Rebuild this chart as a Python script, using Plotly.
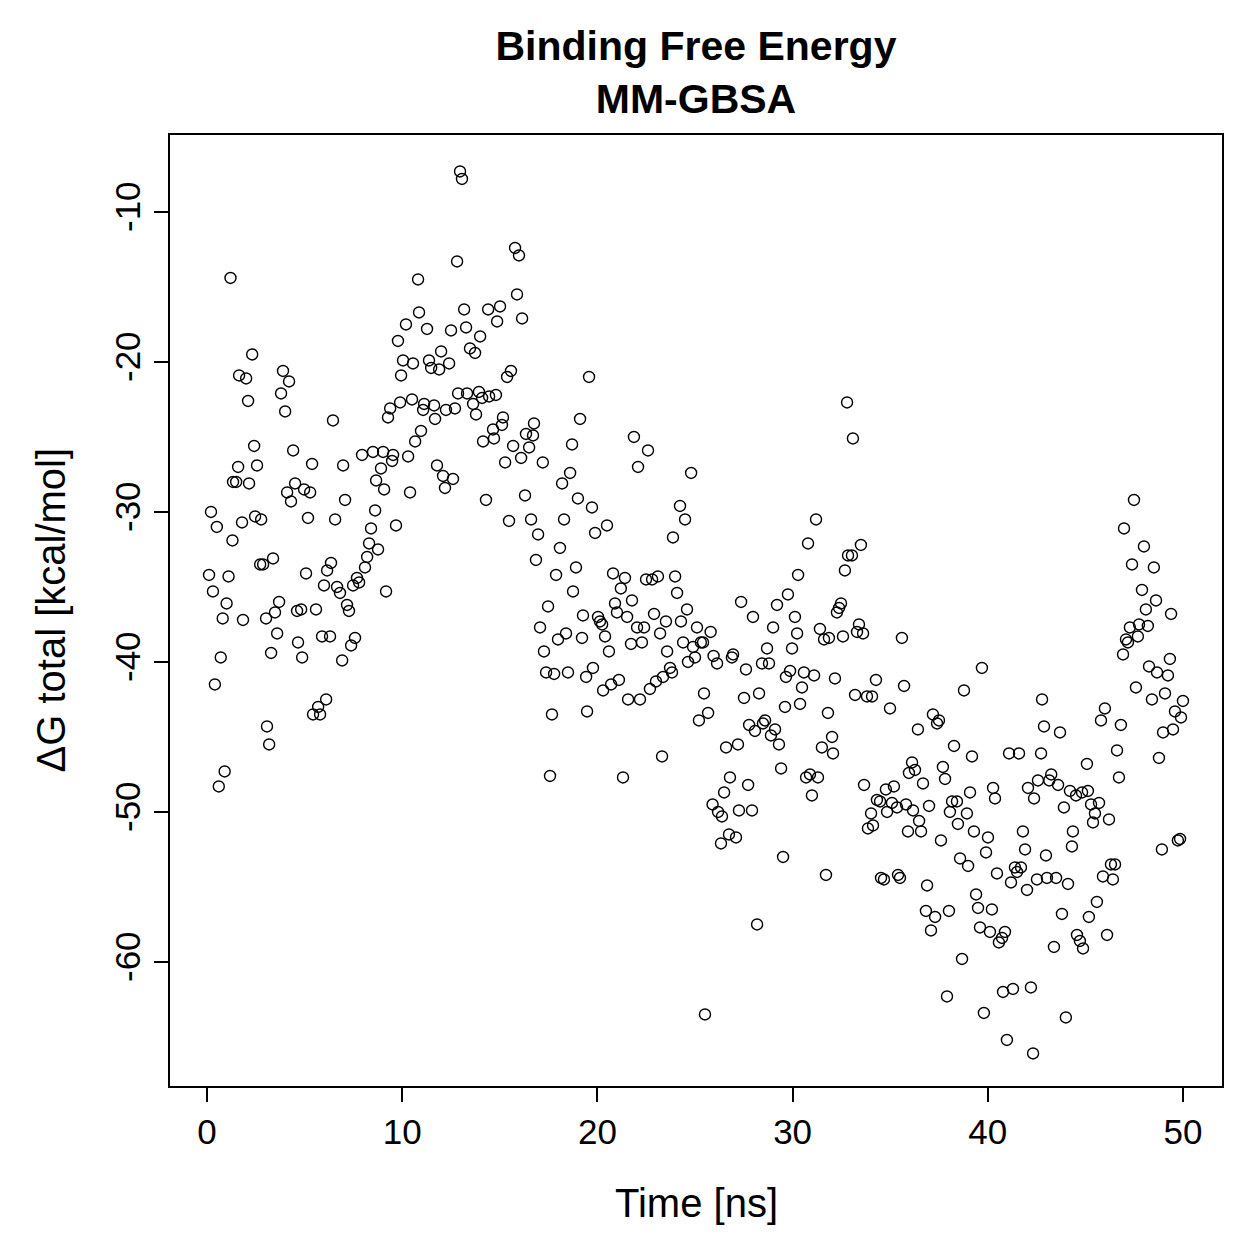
import plotly.graph_objects as go

time_ns = [
0.1,0.2,0.3,0.4,0.5,0.6,0.7,0.8,0.9,1.0,1.1,1.2,1.3,1.33,1.49,1.59,1.64,1.79,1.84,2.0,
2.1,2.15,2.31,2.41,2.46,2.56,2.77,2.72,2.87,3.02,3.07,3.18,3.28,3.38,3.48,3.59,3.69,3.79,3.89,4.0,
4.1,4.2,4.3,4.41,4.51,4.61,4.66,4.82,4.87,4.97,5.07,5.17,5.28,5.38,5.43,5.58,5.69,5.79,5.89,5.99,
6.1,6.15,6.3,6.35,6.45,6.56,6.66,6.81,6.92,6.97,7.07,7.17,7.27,7.38,7.48,7.58,7.68,7.79,7.94,8.09,
8.2,8.3,8.4,8.5,8.61,8.66,8.76,8.91,9.02,9.07,9.17,9.27,9.38,9.48,9.53,9.68,9.78,9.89,9.94,10.04,
10.19,10.3,10.4,10.5,10.55,10.66,10.81,10.86,10.96,11.07,11.12,11.27,11.37,11.48,11.63,11.68,11.78,11.89,11.99,12.09,
12.19,12.24,12.4,12.5,12.6,12.7,12.81,12.86,12.96,13.06,13.17,13.27,13.32,13.47,13.63,13.73,13.78,13.93,13.99,14.09,
14.14,14.29,14.4,14.45,14.65,14.7,14.8,14.86,15.01,15.11,15.16,15.27,15.37,15.47,15.57,15.68,15.78,15.88,15.98,16.09,
16.14,16.29,16.34,16.5,16.6,16.7,16.75,16.85,16.96,17.06,17.2,17.26,17.37,17.47,17.57,17.67,17.78,17.88,17.98,18.08,
18.19,18.29,18.39,18.49,18.6,18.7,18.75,18.9,19.0,19.11,19.21,19.26,19.42,19.47,19.57,19.72,19.77,19.88,20.03,20.13,
20.24,20.29,20.39,20.49,20.59,20.7,20.8,20.9,21.0,21.1,21.2,21.31,21.41,21.52,21.57,21.72,21.77,21.87,22.03,22.08,
22.18,22.28,22.39,22.49,22.59,22.69,22.8,22.9,23.0,23.1,23.21,23.31,23.36,23.51,23.57,23.72,23.82,23.87,23.98,24.08,
24.23,24.28,24.39,24.49,24.59,24.64,24.8,24.9,25.0,25.1,25.2,25.3,25.41,25.46,25.51,25.67,25.8,25.9,25.95,26.13,
26.18,26.33,26.38,26.49,26.59,26.74,26.79,26.89,26.95,27.1,27.2,27.25,27.36,27.51,27.61,27.72,27.77,27.92,27.97,28.07,
28.18,28.28,28.43,28.48,28.59,28.69,28.79,28.89,29.0,29.1,29.2,29.3,29.41,29.51,29.61,29.66,29.76,29.87,29.97,30.12,
30.23,30.28,30.38,30.48,30.58,30.69,30.79,30.89,30.99,31.1,31.2,31.3,31.4,31.5,31.61,31.71,31.81,31.86,32.02,32.07,
32.17,32.27,32.38,32.48,32.58,32.68,32.79,32.84,33.04,33.09,33.2,33.3,33.4,33.5,33.61,33.66,33.81,33.86,34.02,34.07,
34.12,34.27,34.32,34.48,34.53,34.68,34.78,34.84,34.99,35.09,35.19,35.35,35.4,35.5,35.6,35.71,35.81,35.91,35.96,36.12,
36.17,36.27,36.42,36.48,36.58,36.68,36.83,36.89,36.99,37.09,37.19,37.3,37.4,37.5,37.6,37.7,37.81,37.91,38.01,38.06,
38.17,38.27,38.42,38.47,38.58,38.68,38.78,38.93,38.99,39.09,39.19,39.29,39.4,39.5,39.6,39.7,39.8,39.91,40.01,40.11,
40.21,40.27,40.37,40.47,40.57,40.73,40.78,40.88,40.98,41.09,41.19,41.29,41.39,41.5,41.6,41.7,41.8,41.91,42.01,42.06,
42.21,42.32,42.37,42.52,42.57,42.73,42.78,42.88,42.98,43.03,43.15,43.25,43.39,43.5,43.6,43.7,43.8,43.9,44.0,44.11,
44.21,44.31,44.36,44.52,44.57,44.72,44.83,44.88,45.08,45.13,45.18,45.29,45.39,45.49,45.59,45.7,45.8,45.9,46.0,46.11,
46.21,46.31,46.41,46.52,46.62,46.72,46.82,46.93,46.98,47.08,47.18,47.28,47.39,47.49,47.59,47.69,47.75,47.9,48.0,48.1,
48.2,48.26,48.41,48.51,48.62,48.67,48.77,48.92,48.98,49.08,49.23,49.33,49.39,49.49,49.59,49.74,49.85,49.9,50.0,
]

delta_g = [
-34.2,-30.0,-35.3,-41.5,-31.0,-48.3,-39.7,-37.1,-47.3,-36.1,-34.3,-14.4,-31.9,-28.0,-28.0,-27.0,-20.9,-30.7,-37.2,-21.1,
-22.6,-28.1,-19.5,-25.6,-30.3,-26.9,-30.5,-33.5,-33.5,-37.1,-44.3,-45.5,-39.4,-33.1,-36.7,-38.1,-36.0,-22.1,-20.6,-23.3,
-28.7,-21.3,-29.3,-25.9,-28.1,-36.6,-38.7,-36.5,-39.7,-28.5,-34.1,-30.4,-28.7,-26.8,-43.5,-36.5,-43.0,-43.5,-38.3,-34.9,
-42.5,-33.9,-38.3,-33.4,-23.9,-30.5,-35.0,-35.4,-39.9,-26.9,-29.2,-36.2,-36.6,-38.9,-34.9,-38.4,-34.4,-34.7,-26.2,-33.7,
-33.0,-32.1,-31.1,-26.0,-29.9,-27.9,-32.5,-27.1,-26.0,-28.5,-35.3,-23.7,-23.1,-26.6,-26.2,-30.9,-18.6,-22.7,-20.9,-19.9,
-17.5,-26.3,-28.7,-22.5,-20.1,-25.3,-14.5,-16.7,-24.6,-23.2,-22.8,-17.8,-19.9,-20.4,-22.9,-23.8,-26.9,-20.5,-19.3,-27.6,
-28.4,-23.2,-20.1,-17.9,-27.8,-23.1,-13.3,-22.1,-7.3,-7.8,-16.5,-17.7,-22.1,-19.1,-22.8,-19.4,-23.5,-22.0,-18.3,-22.4,
-25.3,-29.2,-16.5,-22.3,-24.5,-25.1,-22.2,-17.3,-16.3,-24.2,-23.7,-26.7,-21.0,-30.6,-20.6,-25.6,-12.4,-15.5,-12.9,-26.4,
-17.1,-28.9,-24.8,-25.7,-30.5,-24.9,-24.1,-33.2,-31.5,-37.7,-26.7,-39.3,-40.7,-36.3,-47.6,-43.5,-40.8,-34.2,-38.5,-32.4,
-28.1,-30.5,-38.1,-40.7,-27.4,-25.5,-35.3,-33.7,-29.1,-23.8,-38.4,-36.9,-41.0,-43.3,-21.0,-29.7,-40.4,-31.4,-37.0,-37.3,
-37.5,-41.9,-38.3,-30.9,-39.3,-41.5,-34.1,-36.1,-36.7,-41.2,-35.1,-47.7,-34.4,-37.0,-42.5,-38.8,-35.9,-25.0,-37.7,-27.0,
-42.5,-38.7,-37.7,-34.5,-25.9,-41.8,-34.5,-36.8,-41.3,-34.3,-38.1,-46.3,-41.0,-37.3,-39.3,-40.4,-40.7,-31.7,-34.3,-35.4,
-29.6,-37.3,-38.7,-30.5,-36.5,-40.0,-27.4,-39.0,-39.7,-37.7,-43.9,-38.7,-38.7,-42.1,-63.5,-43.4,-38.0,-49.5,-39.6,-40.1,
-50.0,-52.1,-50.3,-48.7,-45.7,-51.5,-47.7,-39.7,-39.5,-51.7,-45.5,-49.9,-36.0,-42.4,-40.5,-48.2,-44.2,-49.9,-37.0,-44.6,
-57.5,-42.1,-40.1,-44.1,-43.9,-39.1,-40.1,-44.9,-37.7,-44.5,-36.2,-45.5,-47.1,-53.0,-43.0,-41.0,-35.5,-40.6,-39.1,-37.0,
-38.1,-34.2,-42.8,-41.7,-40.7,-47.7,-32.1,-47.5,-48.9,-40.9,-30.5,-47.7,-37.8,-45.7,-38.5,-54.2,-43.4,-38.4,-45.0,-46.1,
-41.1,-36.7,-36.4,-36.1,-38.3,-33.9,-22.7,-32.9,-32.9,-25.1,-42.2,-38.0,-37.5,-32.2,-38.1,-48.2,-42.3,-51.1,-50.1,-42.3,
-50.9,-41.2,-49.2,-49.3,-54.4,-54.5,-48.5,-50.0,-43.1,-49.4,-48.3,-49.7,-54.2,-54.4,-38.4,-41.6,-49.5,-51.3,-47.4,-46.7,
-49.9,-47.2,-44.5,-50.6,-51.3,-48.1,-56.6,-54.9,-49.6,-57.9,-43.5,-57.0,-44.1,-43.9,-51.9,-47.0,-47.8,-62.3,-56.6,-50.0,
-49.3,-45.6,-49.3,-50.8,-53.1,-59.8,-41.9,-50.1,-53.6,-48.7,-46.3,-51.3,-55.5,-56.4,-57.7,-40.4,-63.4,-52.7,-51.7,-58.0,
-56.5,-48.4,-49.1,-54.1,-58.7,-58.4,-62.0,-58.0,-65.2,-46.1,-54.7,-61.8,-53.7,-54.0,-46.1,-53.7,-51.3,-52.5,-55.2,-48.4,
-61.7,-66.1,-49.1,-54.5,-47.9,-46.1,-42.5,-44.3,-52.9,-54.4,-47.9,-47.5,-59.0,-54.4,-48.2,-44.7,-56.8,-49.7,-63.7,-54.8,
-48.6,-52.3,-51.3,-48.9,-58.2,-58.6,-48.7,-59.1,-46.8,-48.6,-57.0,-49.5,-50.7,-50.1,-56.0,-49.4,-43.9,-54.3,-43.1,-58.2,
-50.5,-53.5,-54.5,-53.5,-45.9,-47.7,-44.2,-39.5,-31.1,-38.5,-38.7,-37.7,-33.5,-29.2,-41.7,-38.3,-37.5,-35.2,-32.3,-36.5,
-37.6,-40.3,-42.5,-33.7,-35.9,-40.7,-46.4,-52.5,-44.7,-42.1,-40.9,-39.8,-36.8,-44.5,-43.3,-51.9,-51.8,-43.7,-42.6,
]

x_ticks = [0, 10, 20, 30, 40, 50]
y_ticks = [-10, -20, -30, -40, -50, -60]

title_text = "<b>Binding Free Energy</b><br><b>MM-GBSA</b>"
x_label = "Time [ns]"
y_label = "ΔG total [kcal/mol]"

FONT = "Liberation Sans, Arial, Helvetica, sans-serif"

fig = go.Figure()
fig.add_trace(go.Scatter(
    x=time_ns, y=delta_g, mode="markers",
    marker=dict(symbol="circle-open", size=11, color="black", line=dict(width=1.4, color="black")),
    showlegend=False, hoverinfo="x+y",
))

axis_common = dict(
    showgrid=False, zeroline=False, showline=True, mirror=True,
    linecolor="black", linewidth=2, ticks="outside", ticklen=14, tickwidth=2,
    tickcolor="black", tickfont=dict(family=FONT, size=35, color="black"),
)

fig.update_layout(
    width=1259, height=1259,
    margin=dict(l=170, r=37, t=135, b=173),
    paper_bgcolor="white", plot_bgcolor="white",
    font=dict(family=FONT, color="black"),
    title=dict(text=title_text, x=0.5, xref="paper", xanchor="center",
               y=1 - 60 / 1259, yanchor="middle",
               font=dict(family=FONT, size=41, color="black")),
    xaxis=dict(range=[-1.9, 52.0], tickvals=x_ticks, ticktext=[str(v) for v in x_ticks], **axis_common),
    yaxis=dict(range=[-68.27, -4.87], tickvals=y_ticks, ticktext=[str(v) for v in y_ticks],
               tickangle=-90, **axis_common),
    annotations=[
        dict(text=x_label, xref="paper", yref="paper", x=0.5, y=-(1203 - 1086) / 951,
             xanchor="center", yanchor="middle", showarrow=False,
             font=dict(family=FONT, size=40, color="black")),
        dict(text=y_label, xref="paper", yref="paper", x=-(170 - 50) / 1052, y=0.5,
             xanchor="center", yanchor="middle", textangle=-90, showarrow=False,
             font=dict(family=FONT, size=40, color="black")),
    ],
)

fig.write_html("out.html")
